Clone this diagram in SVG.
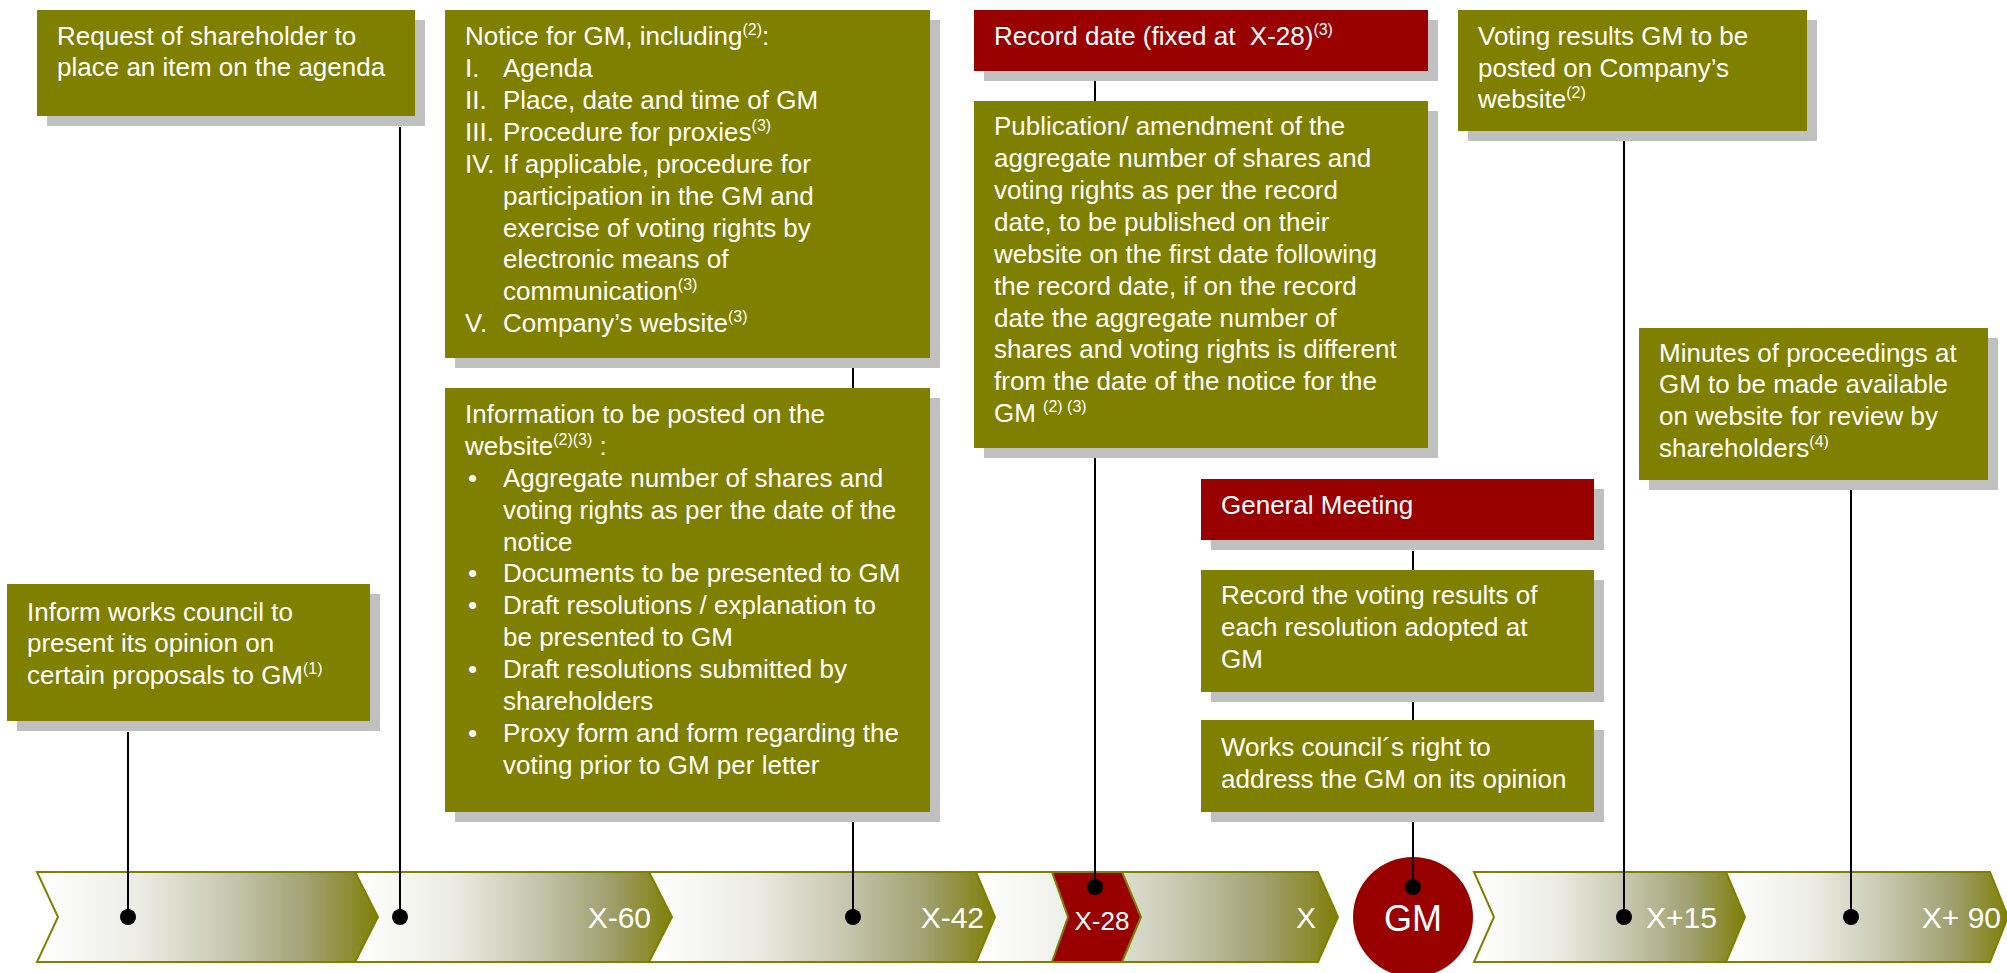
<svg xmlns="http://www.w3.org/2000/svg" width="2007" height="973" viewBox="0 0 2007 973">
<style>
.box{fill:#808000}
.red{fill:#990000}
.sh{fill:#c0c0c0}
.t{font-family:"Liberation Sans",Arial,sans-serif;font-size:26px;fill:#ffffff}
.s{font-size:16px}
.tl{font-family:"Liberation Sans",Arial,sans-serif;font-size:30px;fill:#ffffff;text-anchor:end}
.conn line{stroke:#000000;stroke-width:2}
.dot{fill:#000000}
.chev{stroke:#808000;stroke-width:2;fill:url(#g)}
</style>
<defs>
<linearGradient id="g" x1="0" y1="0" x2="1" y2="0">
<stop offset="0" stop-color="#ffffff"/>
<stop offset="0.3" stop-color="#ecece5"/>
<stop offset="0.55" stop-color="#c9c9b3"/>
<stop offset="0.8" stop-color="#a0a070"/>
<stop offset="1" stop-color="#7f7f08"/>
</linearGradient>
</defs>
<rect width="2007" height="973" fill="#ffffff"/>

<g id="timeline">
<path class="chev" d="M37,872 L355,872 L378,917 L355,962 L37,962 L58,917 Z"/>
<path class="chev" d="M355,872 L649,872 L672,917 L649,962 L355,962 L378,917 Z"/>
<path class="chev" d="M649,872 L976,872 L995,917 L976,962 L649,962 L672,917 Z"/>
<path class="chev" d="M976,872 L1318,872 L1338,917 L1318,962 L976,962 L995,917 Z"/>
<path d="M1052,872 L1122,872 L1141,917 L1122,962 L1052,962 L1068,917 Z" fill="#990000" stroke="#808000" stroke-width="2"/>
<circle cx="1413" cy="917" r="60" fill="#990000"/>
<path class="chev" d="M1474,872 L1726,872 L1745,917 L1726,962 L1474,962 L1494,917 Z"/>
<path class="chev" d="M1726,872 L1990,872 L2008,917 L1990,962 L1726,962 L1745,917 Z"/>
<text class="tl" x="651" y="928">X-60</text>
<text class="tl" x="984" y="928">X-42</text>
<text class="tl" x="1316" y="928">X</text>
<text class="tl" x="1717" y="928">X+15</text>
<text class="tl" x="2001" y="928">X+ 90</text>
<text class="t" x="1102" y="930" text-anchor="middle">X-28</text>
<text class="t" x="1413" y="931" text-anchor="middle" style="font-size:36px">GM</text>
</g>

<g class="conn" id="connectors">
<line x1="400" y1="127" x2="400" y2="917"/>
<line x1="128" y1="732" x2="128" y2="917"/>
<line x1="853" y1="368" x2="853" y2="388"/>
<line x1="853" y1="822" x2="853" y2="917"/>
<line x1="1095" y1="81" x2="1095" y2="101"/>
<line x1="1095" y1="458" x2="1095" y2="887"/>
<line x1="1413" y1="551" x2="1413" y2="570"/>
<line x1="1413" y1="702" x2="1413" y2="720"/>
<line x1="1413" y1="822" x2="1413" y2="887"/>
<line x1="1624" y1="141" x2="1624" y2="917"/>
<line x1="1851" y1="490" x2="1851" y2="917"/>
<circle class="dot" cx="128" cy="917" r="8"/>
<circle class="dot" cx="400" cy="917" r="8"/>
<circle class="dot" cx="853" cy="917" r="8"/>
<circle class="dot" cx="1095" cy="887" r="8"/>
<circle class="dot" cx="1413" cy="887" r="8"/>
<circle class="dot" cx="1624" cy="917" r="8"/>
<circle class="dot" cx="1851" cy="917" r="8"/>
</g>

<g id="request">
<rect class="sh" x="47" y="20" width="378" height="106"/>
<rect class="box" x="37" y="10" width="378" height="106"/>
<text class="t" x="57" y="45">Request of shareholder to</text>
<text class="t" x="57" y="76">place an item on the agenda</text>
</g>

<g id="inform">
<rect class="sh" x="17" y="594" width="363" height="137"/>
<rect class="box" x="7" y="584" width="363" height="137"/>
<text class="t" x="27" y="621">Inform works council to</text>
<text class="t" x="27" y="652">present its opinion on</text>
<text class="t" x="27" y="684">certain proposals to GM<tspan class="s" dy="-10">(1)</tspan></text>
</g>

<g id="notice">
<rect class="sh" x="455" y="20" width="485" height="348"/>
<rect class="box" x="445" y="10" width="485" height="348"/>
<text class="t" x="465" y="45">Notice for GM, including<tspan class="s" dy="-10">(2)</tspan><tspan dy="10">:</tspan></text>
<text class="t" x="465" y="77">I.</text><text class="t" x="503" y="77">Agenda</text>
<text class="t" x="465" y="109">II.</text><text class="t" x="503" y="109">Place, date and time of GM</text>
<text class="t" x="465" y="141">III.</text><text class="t" x="503" y="141">Procedure for proxies<tspan class="s" dy="-10">(3)</tspan></text>
<text class="t" x="465" y="173">IV.</text><text class="t" x="503" y="173">If applicable, procedure for</text>
<text class="t" x="503" y="205">participation in the GM and</text>
<text class="t" x="503" y="237">exercise of voting rights by</text>
<text class="t" x="503" y="268">electronic means of</text>
<text class="t" x="503" y="300">communication<tspan class="s" dy="-10">(3)</tspan></text>
<text class="t" x="465" y="332">V.</text><text class="t" x="503" y="332">Company’s website<tspan class="s" dy="-10">(3)</tspan></text>
</g>

<g id="info">
<rect class="sh" x="455" y="398" width="485" height="424"/>
<rect class="box" x="445" y="388" width="485" height="424"/>
<text class="t" x="465" y="423">Information to be posted on the</text>
<text class="t" x="465" y="455">website<tspan class="s" dy="-10">(2)(3)</tspan><tspan dy="10"> :</tspan></text>
<text class="t" x="468" y="487">•</text><text class="t" x="503" y="487">Aggregate number of shares and</text>
<text class="t" x="503" y="519">voting rights as per the date of the</text>
<text class="t" x="503" y="551">notice</text>
<text class="t" x="468" y="582">•</text><text class="t" x="503" y="582">Documents to be presented to GM</text>
<text class="t" x="468" y="614">•</text><text class="t" x="503" y="614">Draft resolutions / explanation to</text>
<text class="t" x="503" y="646">be presented to GM</text>
<text class="t" x="468" y="678">•</text><text class="t" x="503" y="678">Draft resolutions submitted by</text>
<text class="t" x="503" y="710">shareholders</text>
<text class="t" x="468" y="742">•</text><text class="t" x="503" y="742">Proxy form and form regarding the</text>
<text class="t" x="503" y="774">voting prior to GM per letter</text>
</g>

<g id="recorddate">
<rect class="sh" x="984" y="20" width="454" height="61"/>
<rect class="red" x="974" y="10" width="454" height="61"/>
<text class="t" x="994" y="45">Record date (fixed at&#160; X-28)<tspan class="s" dy="-10">(3)</tspan></text>
</g>

<g id="publication">
<rect class="sh" x="984" y="111" width="454" height="347"/>
<rect class="box" x="974" y="101" width="454" height="347"/>
<text class="t" x="994" y="135">Publication/ amendment of the</text>
<text class="t" x="994" y="167">aggregate number of shares and</text>
<text class="t" x="994" y="199">voting rights as per the record</text>
<text class="t" x="994" y="231">date, to be published on their</text>
<text class="t" x="994" y="263">website on the first date following</text>
<text class="t" x="994" y="295">the record date, if on the record</text>
<text class="t" x="994" y="327">date the aggregate number of</text>
<text class="t" x="994" y="358">shares and voting rights is different</text>
<text class="t" x="994" y="390">from the date of the notice for the</text>
<text class="t" x="994" y="422">GM <tspan class="s" dy="-10">(2) (3)</tspan></text>
</g>

<g id="generalmeeting">
<rect class="sh" x="1211" y="489" width="393" height="61"/>
<rect class="red" x="1201" y="479" width="393" height="61"/>
<text class="t" x="1221" y="514">General Meeting</text>
</g>

<g id="recordvoting">
<rect class="sh" x="1211" y="580" width="393" height="122"/>
<rect class="box" x="1201" y="570" width="393" height="122"/>
<text class="t" x="1221" y="604">Record the voting results of</text>
<text class="t" x="1221" y="636">each resolution adopted at</text>
<text class="t" x="1221" y="668">GM</text>
</g>

<g id="workscouncil">
<rect class="sh" x="1211" y="730" width="393" height="92"/>
<rect class="box" x="1201" y="720" width="393" height="92"/>
<text class="t" x="1221" y="756">Works council´s right to</text>
<text class="t" x="1221" y="788">address the GM on its opinion</text>
</g>

<g id="votingresults">
<rect class="sh" x="1468" y="20" width="349" height="121"/>
<rect class="box" x="1458" y="10" width="349" height="121"/>
<text class="t" x="1478" y="45">Voting results GM to be</text>
<text class="t" x="1478" y="77">posted on Company’s</text>
<text class="t" x="1478" y="108">website<tspan class="s" dy="-10">(2)</tspan></text>
</g>

<g id="minutes">
<rect class="sh" x="1649" y="338" width="349" height="152"/>
<rect class="box" x="1639" y="328" width="349" height="152"/>
<text class="t" x="1659" y="362">Minutes of proceedings at</text>
<text class="t" x="1659" y="393">GM to be made available</text>
<text class="t" x="1659" y="425">on website for review by</text>
<text class="t" x="1659" y="457">shareholders<tspan class="s" dy="-10">(4)</tspan></text>
</g>
</svg>
